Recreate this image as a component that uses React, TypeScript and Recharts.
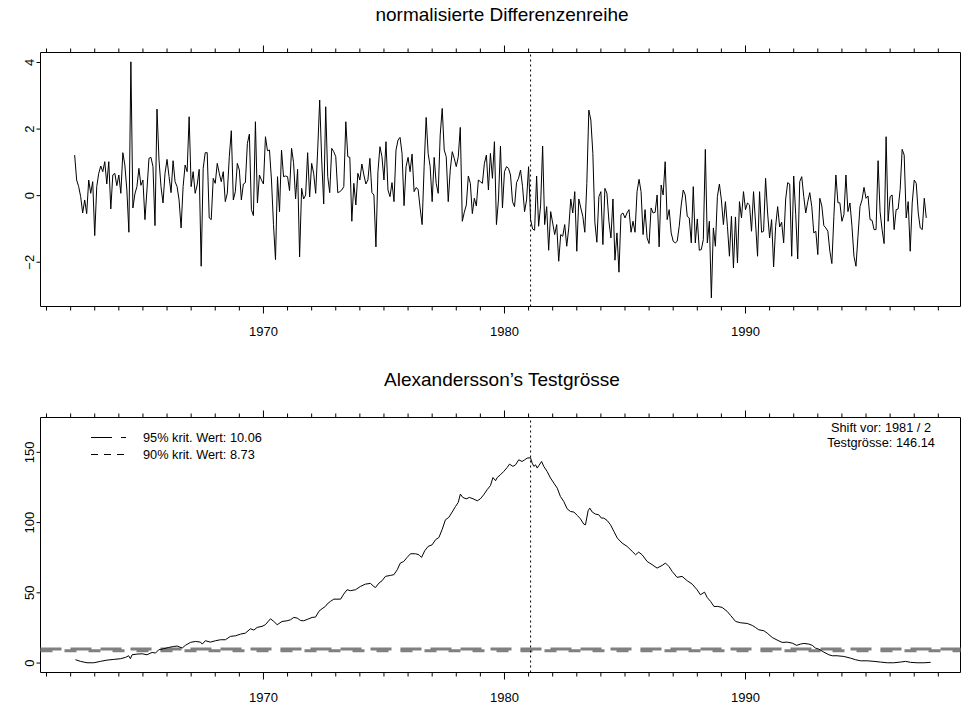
import React from 'react';
import { LineChart, Line, XAxis, YAxis, ReferenceLine, ReferenceArea } from 'recharts';

// monthly series, starts March 1962
const seriesStart = 1962 + 2 / 12;
const diffValues = [
  1.22, 0.47, 0.27, -0.03, -0.52, -0.13, -0.54, 0.47, 0.07, 0.42, -1.2, 0.27, 0.67, 0.89, 0.72, 1.02,
  0.35, 1.02, -0.4, 0.62, 0.67, 0.3, 0.62, 0.07, 1.29, 0.92, 0.17, -1.1, 4.02, -0.37, 0.05, 0.27,
  0.82, 0.31, 0.47, -0.72, 0.17, 1.12, 1.15, 0.87, -0.9, 2.6, 1.07, 0.27, -0.22, 0.67, 1.09, 0.57,
  0.09, 1.05, 0.42, 0.27, -0.13, -0.97, 0.27, 0.92, 0.72, 2.37,
  0.27, 0.72, 0.07, 0.32, 0.79, -2.12, 0.82, 1.29, 1.29, -0.67, -0.72, 0.52, 0.37, 0.97, 0.67, 0.42,
  0.72, -0.18, 0.07, 1.17, 1.95, -0.13, 0.12, 0.97, 0.77, -0.13, 0.35, 0.39, 1.57, 1.85, -0.42, -0.6,
  2.22, -0.22, 0.62, 0.47, 0.35, 1.77, 1.35, 1.37, 0.47, -0.87, -1.92, 0.57, -0.48, 1.37, 0.57, 0.59,
  0.57, 0.15, 1.42, 0.99, -0.1, 0.79, -1.84, 0.22, -0.1, 0.02, 1.29, -0.04, 0.97, 0.67, 0.07, 1.37,
  2.87, 1.07, -0.25, 2.67, 0.57, 0.09, 1.42, 1.32, 1.17,
  0.09, 0.12, 0.17, 0.27, 2.22, 1.17, 1.15, -0.77, 0.37, -0.28, 0.67, 0.47, 0.95, 0.62, 0.35, 0.47,
  1.12, 0.09, 0.02, -1.54, 0.72, 1.47, 1.17, 0.47, 1.62, 0.17, -0.03, 0.39, -0.18, 1.37, 1.67, 1.75,
  1.27, -0.3, 0.87, 1.15, 0.72, 1.25, 0.12, 0.24, 0.19, -0.37, -0.87, 0.87, 2.35, 1.27, 0.87, -0.18,
  1.15, 0.37, 0.07, 1.82, 2.62, 1.37, 1.17, -0.18, 0.77, 1.32, 1.12, 0.87, 1.17, 2.05, -0.77, -0.5,
  -0.28, 0.59, 0.37, -0.54, -0.08, -0.31, 0.47, 0.42,
  0.37, 0.97, 1.22, 0.17, 1.27, 0.52, 1.62, -0.87, -0.13, 1.49, -0.37, 0.72, 0.87, 0.82, 0.62, -0.18,
  -0.33, 0.39, 0.52, 0.77, 0.27, -0.48, -0.13, 0.87, -0.72, -1.0, -1.04, 0.59, -0.92, -0.28, 1.49, -0.87,
  -0.33, -1.64, -0.48, -0.82, -1.17, -0.87, -1.97, -1.17, -1.22, -0.87, -1.52, -0.97, -0.1, -0.52, 0.12, -1.67,
  -0.1, -0.37, -0.62, -1.1, 0.37, 2.57, 2.27, 1.27, -0.8, -1.4, -0.03, 0.12, -1.47, 0.22, 0.07, -0.77,
  -1.27, -0.1, -1.94, -1.12, -2.3, -0.57, -0.52, -0.67, -0.52,
  -0.42, -1.1, -0.77, -1.1, 0.12, 0.49, 0.12, -1.17, -0.42, -1.27, -1.44, -0.37, -0.52, -0.5, 0.02, -1.54,
  0.32, 0.02, 1.02, -0.72, -0.42, -1.12, -1.37, -1.42, -1.37, -0.92, -0.28, 0.17, 0.02, -0.62, -0.67, -1.42,
  0.27, -1.42, -0.7, -1.64, -1.62, -1.32, 1.39, -1.42, -0.77, -3.07, -0.97, -1.52, -0.03, 0.35, -0.13, -0.87,
  -0.18, -0.92, -1.82, -0.62, -2.17, -0.64, -2.02, -0.18, -0.67, 0.12, -0.42, -0.22, -0.28, -1.07, 0.12, -0.82,
  -1.82, 0.12, -1.1, -1.07, 0.52, -0.52, -1.27, -0.72,
  -2.14, -0.92, -0.33, -0.94, -0.8, -1.42, -0.1, 0.39, 0.35, -1.82, 0.59, -0.57, -1.9, 0.42, 0.57, -0.03,
  -0.52, -0.18, 0.09, -0.33, -1.12, -1.07, -1.77, -0.08, -0.31, -0.9, -0.97, -1.07, -1.67, -2.04, -0.62, 0.62,
  -0.21, -0.22, -0.77, -0.57, 0.62, -0.48, -0.22, -0.92, -1.82, -2.12, -1.22, -0.33, -0.13, 0.25, -0.08, -0.01,
  -0.72, -0.74, -1.02, -1.02, 1.05, -0.48, -1.02, -1.44, 1.77, -0.77, -0.03, 0.02, -1.02, -0.42, -0.4, 0.19,
  1.39, 1.22, -0.67, -0.18, -1.67, -0.22, 0.47, 0.37, -0.52, -0.97, -1.02, -0.08, -0.67,
];

const testYears = [
  1962.2, 1962.41, 1962.68, 1962.96, 1963.24, 1963.51, 1963.79, 1964.07, 1964.27, 1964.41, 1964.48, 1964.55,
  1964.76, 1964.97, 1965.17, 1965.38, 1965.52, 1965.66, 1965.86, 1966.07, 1966.28, 1966.42, 1966.63, 1966.76,
  1966.97, 1967.18, 1967.39, 1967.46, 1967.59, 1967.8, 1968.01, 1968.22, 1968.42, 1968.63, 1968.84, 1969.05,
  1969.25, 1969.46, 1969.6, 1969.74, 1969.94, 1970.08, 1970.29, 1970.43, 1970.57, 1970.77, 1970.98, 1971.12,
  1971.26, 1971.4, 1971.54, 1971.67, 1971.88, 1972.02, 1972.16, 1972.3, 1972.43, 1972.57, 1972.64, 1972.78,
  1972.92, 1973.2, 1973.33, 1973.47, 1973.61, 1973.82, 1974.02, 1974.23, 1974.44, 1974.58, 1974.65, 1974.79,
  1974.92, 1975.06, 1975.27, 1975.41, 1975.55, 1975.68, 1975.82, 1975.96, 1976.1, 1976.31, 1976.45, 1976.56,
  1976.69, 1976.83, 1977.0, 1977.14, 1977.28, 1977.41, 1977.55, 1977.69, 1977.83, 1977.97, 1978.08, 1978.17,
  1978.27, 1978.41, 1978.55, 1978.73, 1978.87, 1979.0, 1979.14, 1979.28, 1979.42, 1979.52, 1979.63, 1979.7,
  1979.83, 1979.97, 1980.11, 1980.21, 1980.35, 1980.46, 1980.59, 1980.73, 1980.84, 1980.94, 1981.08, 1981.15,
  1981.22, 1981.29, 1981.36, 1981.42, 1981.54, 1981.63, 1981.77, 1981.91, 1982.05, 1982.19, 1982.32, 1982.46,
  1982.6, 1982.74, 1982.88, 1983.02, 1983.15, 1983.29, 1983.36, 1983.47, 1983.54, 1983.64, 1983.78, 1983.91,
  1984.02, 1984.12, 1984.26, 1984.4, 1984.54, 1984.68, 1984.88, 1985.09, 1985.3, 1985.44, 1985.57, 1985.71,
  1985.92, 1986.13, 1986.33, 1986.54, 1986.68, 1986.82, 1986.96, 1987.16, 1987.37, 1987.58, 1987.79, 1987.99,
  1988.13, 1988.3, 1988.41, 1988.55, 1988.69, 1988.85, 1989.03, 1989.24, 1989.38, 1989.59, 1989.79, 1990.07,
  1990.28, 1990.41, 1990.55, 1990.76, 1990.9, 1991.11, 1991.31, 1991.52, 1991.73, 1991.94, 1992.12, 1992.28,
  1992.42, 1992.63, 1992.77, 1992.9, 1993.04, 1993.25, 1993.46, 1993.6, 1993.8, 1994.08, 1994.36, 1994.56,
  1994.77, 1995.05, 1995.33, 1995.6, 1995.88, 1996.15, 1996.43, 1996.64, 1996.85, 1997.12, 1997.4, 1997.68,
];
const testValues = [
  2.4, 1.2, 0.2, 0.2, 1.2, 2.1, 2.6, 3.1, 4.0, 5.2, 3.1, 5.9,
  6.4, 6.6, 5.9, 7.6, 7.1, 9.5, 10.2, 11.1, 11.8, 12.1, 10.7, 12.6,
  14.7, 15.4, 14.9, 13.5, 15.9, 14.9, 15.9, 16.6, 16.6, 19.0, 19.4, 20.6,
  21.3, 24.4, 23.5, 25.4, 26.1, 27.3, 31.5, 29.6, 27.3, 29.6, 30.1, 30.8,
  32.5, 32.0, 30.3, 30.1, 31.5, 32.5, 32.7, 36.8, 38.7, 40.3, 42.0, 43.9,
  45.5, 45.5, 49.1, 52.2, 51.5, 52.2, 54.5, 56.2, 56.7, 54.5, 53.8, 56.9,
  58.6, 61.7, 62.4, 62.9, 66.4, 71.2, 72.3, 75.2, 77.8, 77.8, 77.1, 75.2,
  79.9, 83.0, 84.2, 87.8, 89.4, 94.9, 102.0, 103.7, 107.5, 111.5, 114.3, 120.3,
  117.9, 116.9, 117.9, 116.7, 115.5, 116.9, 119.8, 123.4, 126.4, 132.1, 129.8, 132.1,
  134.0, 136.4, 139.2, 141.6, 140.0, 141.1, 144.7, 143.5, 144.7, 145.9, 146.14, 142.3,
  140.0, 141.1, 138.8, 140.4, 143.5, 140.0, 136.4, 131.7, 128.1, 124.5, 118.6, 115.0,
  109.8, 107.9, 107.5, 105.1, 102.7, 98.9, 98.4, 108.4, 110.3, 107.5, 106.0, 105.6,
  103.2, 103.2, 101.5, 98.4, 93.7, 89.0, 85.4, 83.0, 79.5, 77.1, 79.0, 77.1,
  72.3, 70.0, 67.6, 69.5, 71.2, 68.8, 65.2, 61.0, 61.7, 58.6, 56.2, 52.2,
  48.6, 50.5, 46.7, 43.9, 40.3, 40.3, 39.6, 36.8, 33.9, 29.6, 28.7, 28.2,
  26.8, 25.4, 23.7, 23.0, 21.3, 18.2, 16.4, 14.7, 14.9, 14.2, 12.6, 13.5,
  14.0, 13.5, 12.6, 10.7, 9.9, 7.8, 5.9, 5.2, 5.2, 4.7, 3.5, 2.4,
  1.6, 1.6, 1.2, 0.7, 0.2, 0.2, 0.7, 1.2, 0.5, 0.2, 0.2, 0.5,
];

const yearTicks = [
  1961, 1962, 1963, 1964, 1965, 1966, 1967, 1968, 1969, 1970, 1971, 1972, 1973, 1974, 1975, 1976, 1977, 1978, 1979,
  1980, 1981, 1982, 1983, 1984, 1985, 1986, 1987, 1988, 1989, 1990, 1991, 1992, 1993, 1994, 1995, 1996, 1997, 1998,
];
const diffTicks = [-2, 0, 2, 4];
const testTicks = [0, 50, 100, 150];
const crit95 = 10.06;
const crit90 = 8.73;
const shiftYear = 1981;
const shiftMonth = 2;
const testMax = 146.14;

const FONT = '"Liberation Sans", Arial, Helvetica, sans-serif';
const X_DOMAIN: [number, number] = [1960.75, 1998.92];
const DIFF_DOMAIN: [number, number] = [-3.33, 4.3];
const TEST_DOMAIN: [number, number] = [-6.72, 174.8];

const shiftX = shiftYear + (shiftMonth - 1) / 12;
const diffData = diffValues.map((v, i) => ({ t: seriesStart + i / 12, v }));
const testData = testYears.map((t, i) => ({ t, v: testValues[i] }));

function YearTick({ x, y, payload, side }: any) {
  const major = payload.value % 10 === 0;
  const len = major ? 7 : 4;
  const d = side === 'top' ? -1 : 1;
  return (
    <g>
      <line x1={x} x2={x} y1={y} y2={y + d * len} stroke="#000" strokeWidth={1} />
      {side === 'bottom' && major && (
        <text x={x} y={y + 29.5} textAnchor="middle" fontSize={13} fontFamily={FONT} fill="#000">
          {payload.value}
        </text>
      )}
    </g>
  );
}

function ValueTick({ x, y, payload }: any) {
  const v = payload.value;
  const label = v < 0 ? `\u2212${-v}` : `${v}`;
  return (
    <g>
      <line x1={x} x2={x - 4} y1={y} y2={y} stroke="#000" strokeWidth={1} />
      <text
        transform={`translate(${x - 6.5},${y}) rotate(-90)`}
        textAnchor="middle"
        fontSize={13}
        fontFamily={FONT}
        fill="#000"
      >
        {label}
      </text>
    </g>
  );
}

function Panel({ data, yDomain, yTicks, height, marginBottom, children }: any) {
  return (
    <LineChart
      width={963}
      height={height}
      data={data}
      margin={{ top: 42.5, right: 2.5, bottom: marginBottom - 30, left: 0.5 }}
    >
      <XAxis
        dataKey="t"
        type="number"
        domain={X_DOMAIN}
        allowDataOverflow
        ticks={yearTicks}
        interval={0}
        height={30}
        axisLine={false}
        tickLine={false}
        tickSize={0}
        tickMargin={0}
        tick={(p: any) => <YearTick {...p} side="bottom" />}
      />
      <XAxis
        xAxisId="top"
        orientation="top"
        dataKey="t"
        type="number"
        domain={X_DOMAIN}
        allowDataOverflow
        ticks={yearTicks}
        interval={0}
        height={10}
        axisLine={false}
        tickLine={false}
        tickSize={0}
        tickMargin={0}
        tick={(p: any) => <YearTick {...p} side="top" />}
      />
      <YAxis
        type="number"
        domain={yDomain}
        allowDataOverflow
        ticks={yTicks}
        interval={0}
        width={40}
        axisLine={false}
        tickLine={false}
        tickSize={0}
        tickMargin={0}
        tick={(p: any) => <ValueTick {...p} />}
      />
      <ReferenceArea
        x1={X_DOMAIN[0]}
        x2={X_DOMAIN[1]}
        y1={yDomain[0]}
        y2={yDomain[1]}
        fill="none"
        stroke="#000"
        strokeWidth={1}
      />
      {children}
      <ReferenceLine x={shiftX} stroke="#000" strokeWidth={1} strokeDasharray="2 3" />
      <Line
        type="linear"
        dataKey="v"
        stroke="#000"
        strokeWidth={1}
        dot={false}
        isAnimationActive={false}
      />
    </LineChart>
  );
}

export default function App() {
  return (
    <div style={{ position: 'absolute', left: 0, top: 0, width: 963, height: 706, background: '#fff', overflow: 'hidden' }}>
      <div style={{ position: 'absolute', left: 0, top: 0 }}>
        <Panel data={diffData} yDomain={DIFF_DOMAIN} yTicks={diffTicks} height={353} marginBottom={46.5} />
      </div>
      <div style={{ position: 'absolute', left: 0, top: 365 }}>
        <Panel data={testData} yDomain={TEST_DOMAIN} yTicks={testTicks} height={341} marginBottom={33.5}>
          <ReferenceLine y={crit95} stroke="#808080" strokeWidth={3} strokeDasharray="21 9" />
          <ReferenceLine y={crit90} stroke="#808080" strokeWidth={3} strokeDasharray="12 12" />
        </Panel>
      </div>

      {/* titles, legend and shift info */}
      <svg style={{ position: 'absolute', left: 0, top: 0 }} width={963} height={706} pointerEvents="none">
        <g fontFamily={FONT} fill="#000">
          <text x={502} y={21} fontSize={19} textAnchor="middle">normalisierte Differenzenreihe</text>
          <text x={502} y={386} fontSize={19} textAnchor="middle">Alexandersson’s Testgrösse</text>

          <line x1={91} x2={126} y1={437.5} y2={437.5} stroke="#000" strokeWidth={1} strokeDasharray="21 9" />
          <line x1={91} x2={126} y1={454.5} y2={454.5} stroke="#000" strokeWidth={1} strokeDasharray="7 6" />
          <text x={143} y={441.5} fontSize={12.75}>95% krit. Wert: {crit95.toFixed(2)}</text>
          <text x={143} y={459} fontSize={12.75}>90% krit. Wert: {crit90.toFixed(2)}</text>

          <text x={881} y={432} fontSize={12.75} textAnchor="middle">
            Shift vor: {shiftYear} / {shiftMonth}
          </text>
          <text x={881} y={446.5} fontSize={12.75} textAnchor="middle">
            Testgrösse: {testMax.toFixed(2)}
          </text>
        </g>
      </svg>
    </div>
  );
}
